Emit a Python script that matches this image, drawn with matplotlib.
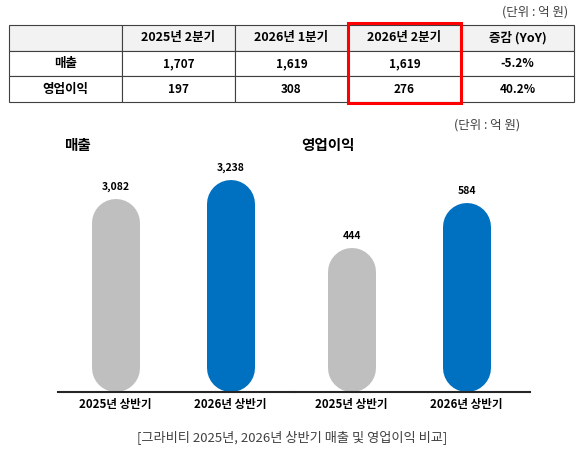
import matplotlib
matplotlib.use("Agg")
import matplotlib.pyplot as plt
from matplotlib.patches import Rectangle

plt.rcParams['font.family'] = ['Noto Sans CJK KR', 'DejaVu Sans']

# 표 데이터
col_labels = ['', '2025년 2분기', '2026년 1분기', '2026년 2분기', '증감 (YoY)']
row_labels = ['매출', '영업이익']
sales_q = ['1,707', '1,619', '1,619', '-5.2%']
profit_q = ['197', '308', '276', '40.2%']

# 막대 그래프 데이터
periods = ['2025년 상반기', '2026년 상반기']
sales_h = [3082, 3238]
profit_h = [444, 584]

GRAY = '#BFBFBF'
BLUE = '#0070C0'
W, H = 581, 454

fig = plt.figure(figsize=(W / 100, H / 100), dpi=100)

# ---- 표 ----
fig.text(568 / W, 1 - 12 / H, '(단위 : 억 원)', ha='right', va='center',
         fontsize=9, color='#404040')

tax = fig.add_axes([9 / W, 1 - 102 / H, 565 / W, 77 / H])
tax.axis('off')
cells = [[row_labels[0]] + sales_q, [row_labels[1]] + profit_q]
tbl = tax.table(cellText=cells, colLabels=col_labels, bbox=[0, 0, 1, 1],
                cellLoc='center')
tbl.auto_set_font_size(False)
for (r, c), cell in tbl.get_celld().items():
    cell.set_edgecolor('#404040')
    cell.set_linewidth(0.8)
    cell.get_text().set_fontsize(9 if (c == 0 or r == 0) else 8.5)
    cell.get_text().set_fontweight('bold')
    if r == 0:
        cell.set_facecolor('#F2F2F2')
    else:
        cell.set_facecolor('white')

# 2026년 2분기 강조 박스
tax.add_patch(Rectangle((0.6, -0.01), 0.2, 1.03, transform=tax.transAxes,
                        fill=False, edgecolor='#FF0000', linewidth=2.2,
                        clip_on=False, zorder=10))

# ---- 막대 그래프 ----
fig.text(520 / W, 1 - 125 / H, '(단위 : 억 원)', ha='right', va='center',
         fontsize=9, color='#404040')

bottom = 1 - 392 / H
height = 232 / H
ax1 = fig.add_axes([58 / W, bottom, 236 / W, height])
ax2 = fig.add_axes([294 / W, bottom, 236 / W, height])

bar_px = 48


def capsule_bars(ax, values, ylim):
    ax.set_xlim(-0.5, 1.55)
    ax.set_ylim(*ylim)
    h_px = ax.get_position().height * fig.get_figheight() * fig.dpi
    r = (bar_px / 2) * (ylim[1] - ylim[0]) / h_px
    for i, v in enumerate(values):
        ax.plot([i, i], [ylim[0] + r, v - r], color=[GRAY, BLUE][i],
                linewidth=bar_px * 0.72, solid_capstyle='round')
        ax.annotate(f'{v:,}', xy=(i, v), xytext=(0, 5), textcoords='offset points',
                    ha='center', va='bottom', fontsize=7.5, fontweight='bold')
    ax.set_xticks(range(len(periods)))
    ax.set_xticklabels(periods, fontsize=8.3, fontweight='bold')
    ax.tick_params(axis='x', length=0, pad=4)
    ax.set_yticks([])
    for s in ['top', 'left', 'right']:
        ax.spines[s].set_visible(False)
    ax.spines['bottom'].set_linewidth(1.5)
    ax.spines['bottom'].set_color('#262626')


capsule_bars(ax1, sales_h, (1500, 3405))
capsule_bars(ax2, profit_h, (0, 717))

fig.text(64 / W, 1 - 145 / H, '매출', ha='left', va='center',
         fontsize=10.5, fontweight='bold')
fig.text(301 / W, 1 - 145 / H, '영업이익', ha='left', va='center',
         fontsize=10.5, fontweight='bold')

fig.text(292 / W, 1 - 437 / H, '[그라비티 2025년, 2026년 상반기 매출 및 영업이익 비교]',
         ha='center', va='center', fontsize=9.5, color='#404040', style='italic')

fig.savefig('out.png', dpi=100)
